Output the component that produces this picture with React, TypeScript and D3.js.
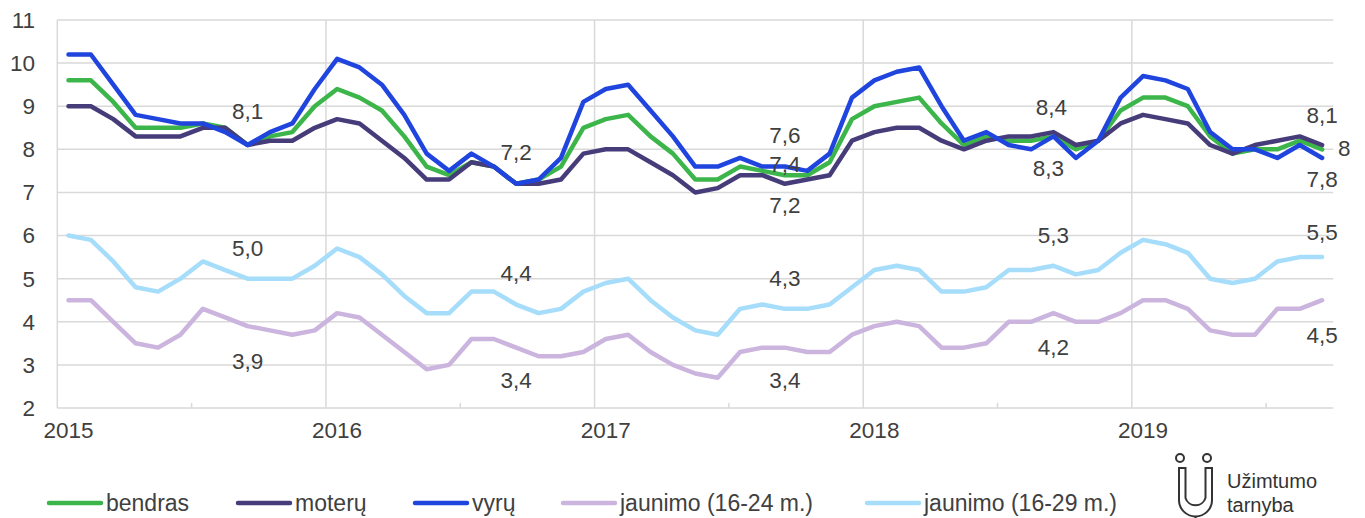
import React from "react";
import * as d3 from "d3";

const years = ["2015", "2016", "2017", "2018", "2019"];
const monthCount = 57;
const yTicks = [2, 3, 4, 5, 6, 7, 8, 9, 10, 11];

const bendras = [
  9.6, 9.6, 9.1, 8.5, 8.5, 8.5, 8.6, 8.5, 8.1, 8.3, 8.4, 9.0,
  9.4, 9.2, 8.9, 8.3, 7.6, 7.4, 7.7, 7.6, 7.2, 7.3, 7.6, 8.5,
  8.7, 8.8, 8.3, 7.9, 7.3, 7.3, 7.6, 7.5, 7.4, 7.4, 7.7, 8.7,
  9.0, 9.1, 9.2, 8.6, 8.1, 8.3, 8.2, 8.2, 8.3, 8.0, 8.2, 8.9,
  9.2, 9.2, 9.0, 8.3, 7.9, 8.0, 8.0, 8.2, 8.0,
];
const moteru = [
  9.0, 9.0, 8.7, 8.3, 8.3, 8.3, 8.5, 8.5, 8.1, 8.2, 8.2, 8.5,
  8.7, 8.6, 8.2, 7.8, 7.3, 7.3, 7.7, 7.6, 7.2, 7.2, 7.3, 7.9,
  8.0, 8.0, 7.7, 7.4, 7.0, 7.1, 7.4, 7.4, 7.2, 7.3, 7.4, 8.2,
  8.4, 8.5, 8.5, 8.2, 8.0, 8.2, 8.3, 8.3, 8.4, 8.1, 8.2, 8.6,
  8.8, 8.7, 8.6, 8.1, 7.9, 8.1, 8.2, 8.3, 8.1,
];
const vyru = [
  10.2, 10.2, 9.5, 8.8, 8.7, 8.6, 8.6, 8.4, 8.1, 8.4, 8.6, 9.4,
  10.1, 9.9, 9.5, 8.8, 7.9, 7.5, 7.9, 7.6, 7.2, 7.3, 7.8, 9.1,
  9.4, 9.5, 8.9, 8.3, 7.6, 7.6, 7.8, 7.6, 7.6, 7.5, 7.9, 9.2,
  9.6, 9.8, 9.9, 9.0, 8.2, 8.4, 8.1, 8.0, 8.3, 7.8, 8.2, 9.2,
  9.7, 9.6, 9.4, 8.4, 8.0, 8.0, 7.8, 8.1, 7.8,
];
const jaunimo24 = [
  4.5, 4.5, 4.0, 3.5, 3.4, 3.7, 4.3, 4.1, 3.9, 3.8, 3.7, 3.8,
  4.2, 4.1, 3.7, 3.3, 2.9, 3.0, 3.6, 3.6, 3.4, 3.2, 3.2, 3.3,
  3.6, 3.7, 3.3, 3.0, 2.8, 2.7, 3.3, 3.4, 3.4, 3.3, 3.3, 3.7,
  3.9, 4.0, 3.9, 3.4, 3.4, 3.5, 4.0, 4.0, 4.2, 4.0, 4.0, 4.2,
  4.5, 4.5, 4.3, 3.8, 3.7, 3.7, 4.3, 4.3, 4.5,
];
const jaunimo29 = [
  6.0, 5.9, 5.4, 4.8, 4.7, 5.0, 5.4, 5.2, 5.0, 5.0, 5.0, 5.3,
  5.7, 5.5, 5.1, 4.6, 4.2, 4.2, 4.7, 4.7, 4.4, 4.2, 4.3, 4.7,
  4.9, 5.0, 4.5, 4.1, 3.8, 3.7, 4.3, 4.4, 4.3, 4.3, 4.4, 4.8,
  5.2, 5.3, 5.2, 4.7, 4.7, 4.8, 5.2, 5.2, 5.3, 5.1, 5.2, 5.6,
  5.9, 5.8, 5.6, 5.0, 4.9, 5.0, 5.4, 5.5, 5.5,
];

const seriesNames = ["bendras", "moterų", "vyrų", "jaunimo (16-24 m.)", "jaunimo (16-29 m.)"];
const seriesValues = [bendras, moteru, vyru, jaunimo24, jaunimo29];
const seriesColors = ["#3cb64a", "#463c7a", "#1f45de", "#cbb5de", "#a5ddfb"];

// data labels: series index, month index, offset (styling)
const labelSpecs = [
  { s: 0, i: 8, dx: 0, dy: -34, trim: false },
  { s: 4, i: 8, dx: 0, dy: -31, trim: false },
  { s: 3, i: 8, dx: 0, dy: 35, trim: false },
  { s: 2, i: 20, dx: 0, dy: -32, trim: false },
  { s: 4, i: 20, dx: 0, dy: -31, trim: false },
  { s: 3, i: 20, dx: 0, dy: 32, trim: false },
  { s: 2, i: 32, dx: 0, dy: -31, trim: false },
  { s: 0, i: 32, dx: 0, dy: -11, trim: false },
  { s: 1, i: 32, dx: 0, dy: 21, trim: false },
  { s: 4, i: 32, dx: 0, dy: -31, trim: false },
  { s: 3, i: 32, dx: 0, dy: 32, trim: false },
  { s: 1, i: 44, dx: -2, dy: -25, trim: false },
  { s: 2, i: 44, dx: -5, dy: 32, trim: false },
  { s: 4, i: 44, dx: 0, dy: -31, trim: false },
  { s: 3, i: 44, dx: 0, dy: 34, trim: false },
  { s: 1, i: 56, dx: 0, dy: -30, trim: false },
  { s: 0, i: 56, dx: 16, dy: -1, trim: true },
  { s: 2, i: 56, dx: 0, dy: 21, trim: false },
  { s: 4, i: 56, dx: 0, dy: -25, trim: false },
  { s: 3, i: 56, dx: 0, dy: 35, trim: false },
];

const legendSwatchX = [47, 236, 413, 561, 865];
const logoLines = ["Užimtumo", "tarnyba"];

const W = 1365;
const H = 518;
const left = 57.3;
const right = 1333.3;
const top = 20;
const bottom = 408;
const FONT = "'Liberation Sans', Arial, sans-serif";
const TXT = "#404040";
const GRID = "#d9d9d9";

export default function App() {
  const idx = d3.range(monthCount);
  const x = d3.scaleBand<number>().domain(idx).range([left, right]).paddingInner(0).paddingOuter(0);
  const bw = x.bandwidth();
  const cx = (i: number) => (x(i) as number) + bw / 2;
  const y = d3.scaleLinear().domain([2, 11]).range([bottom, top]);
  const line = d3
    .line<number>()
    .x((_, i) => cx(i))
    .y((v) => y(v));

  const fmt = (v: number, trim: boolean) =>
    trim && Math.abs(v - Math.round(v)) < 1e-9 ? String(Math.round(v)) : v.toFixed(1).replace(".", ",");

  const yearIdx = years.map((_, k) => k * 12);
  const halfIdx = years.map((_, k) => k * 12 + 6).filter((i) => i < monthCount);

  return (
    <svg
      width={W}
      height={H}
      style={{ position: "absolute", left: 0, top: 0, background: "#fff" }}
      fontFamily={FONT}
    >
      {/* horizontal grid */}
      {yTicks.map((t) => (
        <line key={"g" + t} x1={left} x2={right} y1={y(t)} y2={y(t)} stroke={GRID} strokeWidth={1.5} />
      ))}
      {/* vertical year grid */}
      {yearIdx.map((i) => (
        <line key={"v" + i} x1={x(i)} x2={x(i)} y1={top} y2={bottom} stroke={GRID} strokeWidth={1.5} />
      ))}
      {/* half-year ticks */}
      {halfIdx.map((i) => (
        <line key={"h" + i} x1={x(i)} x2={x(i)} y1={bottom - 5} y2={bottom} stroke={GRID} strokeWidth={1.5} />
      ))}
      {/* y labels */}
      {yTicks.map((t) => (
        <text key={"yl" + t} x={35} y={y(t)} dy="0.35em" textAnchor="end" fontSize={22.5} fill={TXT}>
          {t}
        </text>
      ))}
      {/* x labels */}
      {yearIdx.map((i, k) => (
        <text key={"xl" + i} x={cx(i)} y={438} textAnchor="middle" fontSize={22.5} fill={TXT}>
          {years[k]}
        </text>
      ))}
      {/* lines */}
      {seriesValues.map((vals, s) => (
        <path
          key={"l" + s}
          d={line(vals) || ""}
          fill="none"
          stroke={seriesColors[s]}
          strokeWidth={4.5}
          strokeLinejoin="round"
          strokeLinecap="round"
        />
      ))}
      {/* data labels */}
      {labelSpecs.map((l, k) => {
        const v = seriesValues[l.s][l.i];
        return (
          <text
            key={"dl" + k}
            x={cx(l.i) + l.dx}
            y={y(v) + l.dy}
            dy="0.35em"
            textAnchor={l.trim ? "start" : "middle"}
            fontSize={22.5}
            fill={TXT}
          >
            {fmt(v, l.trim)}
          </text>
        );
      })}
      {/* legend */}
      {seriesNames.map((n, s) => (
        <g key={"lg" + s}>
          <line
            x1={legendSwatchX[s] + 2}
            x2={legendSwatchX[s] + 54}
            y1={503}
            y2={503}
            stroke={seriesColors[s]}
            strokeWidth={4.5}
            strokeLinecap="round"
          />
          <text x={legendSwatchX[s] + 59} y={503} dy="0.35em" fontSize={23} fill={TXT}>
            {n}
          </text>
        </g>
      ))}
      {/* logo */}
      <g fill="none" stroke="#333" strokeWidth={2}>
        <circle cx={1180} cy={458} r={4} />
        <circle cx={1207} cy={458} r={4} />
        <path d="M1179,468 V500 A16.5,16.5 0 0 0 1212,500 V468 H1205.5 V498 A10.5,10.5 0 0 1 1185.5,498 V468 Z" />
        <line x1={1195.5} y1={516} x2={1195.5} y2={518} />
      </g>
      {logoLines.map((t, k) => (
        <text key={"logo" + k} x={1227} y={487.5 + k * 24} fontSize={20} fill="#333">
          {t}
        </text>
      ))}
    </svg>
  );
}
